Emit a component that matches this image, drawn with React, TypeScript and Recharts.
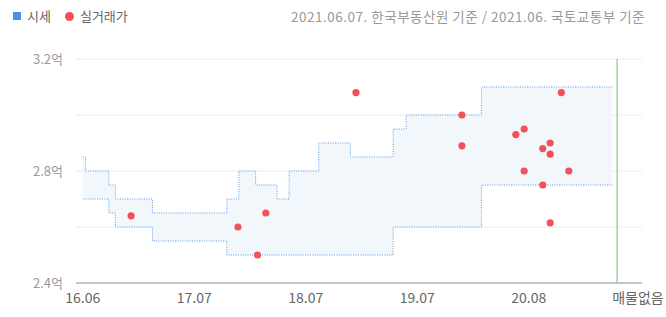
import {
  Area,
  CartesianGrid,
  ComposedChart,
  ReferenceLine,
  Scatter,
  XAxis,
  YAxis,
} from 'recharts'

// x is a position on the time axis: each labelled tick is 12 units apart
const tickPos = [0, 12, 24, 36, 48, 60]
const tickLabels = ['16.06', '17.07', '18.07', '19.07', '20.08', '매물없음']

// 시세 band (min / max), step changes
const bandX = [0, 0.3, 2.8, 3.5, 7.5, 15.5, 16.8, 18.6, 20.9, 22.2, 25.4, 28.8, 33.4, 34.8, 42.9, 57.0]
const bandLow = [2.7, 2.7, 2.65, 2.6, 2.55, 2.5, 2.5, 2.5, 2.5, 2.5, 2.5, 2.5, 2.6, 2.6, 2.75, 2.75]
const bandHigh = [2.85, 2.8, 2.75, 2.7, 2.65, 2.7, 2.8, 2.75, 2.7, 2.8, 2.9, 2.85, 2.95, 3.0, 3.1, 3.1]

// 실거래가
const dealX = [5.2, 16.7, 18.8, 19.7, 29.4, 40.8, 40.8, 46.6, 47.5, 47.5, 49.5, 49.5, 50.3, 50.3, 50.3, 51.5, 52.3]
const dealPrice = [2.64, 2.6, 2.5, 2.65, 3.08, 3.0, 2.89, 2.93, 2.95, 2.8, 2.88, 2.75, 2.9, 2.86, 2.615, 3.08, 2.8]

const yTicks = [2.4, 2.6, 2.8, 3.0, 3.2]
const yLabelled = ['2.4', '2.8', '3.2']
const nowX = 57.5

const bandData = bandX.map((x, i) => ({ x, range: [bandLow[i], bandHigh[i]] }))
const dealData = dealX.map((x, i) => ({ x, price: dealPrice[i] }))

const FONT = '"Noto Sans CJK KR", "Noto Sans", sans-serif'

function Dot(props: any) {
  const { cx, cy } = props
  return <circle cx={cx} cy={cy} r={3.6} fill="#f4505a" />
}

export default function App() {
  return (
    <div style={{ position: 'relative', width: 666, height: 317, fontFamily: FONT, background: '#fff' }}>
      <style>{'body{margin:0}'}</style>
      <div style={{ position: 'absolute', left: 13, top: 6, display: 'flex', alignItems: 'center', fontSize: 13, color: '#666', lineHeight: '20px' }}>
        <span style={{ width: 8, height: 8, background: '#4a90e2', display: 'inline-block', marginRight: 6 }} />
        <span>시세</span>
        <span style={{ width: 9, height: 9, borderRadius: '50%', background: '#f4505a', display: 'inline-block', marginLeft: 14, marginRight: 6 }} />
        <span>실거래가</span>
      </div>
      <div style={{ position: 'absolute', right: 21, top: 6, fontSize: 13.5, letterSpacing: 0.5, color: '#999', lineHeight: '20px', whiteSpace: 'nowrap' }}>
        2021.06.07. 한국부동산원 기준 / 2021.06. 국토교통부 기준
      </div>
      <ComposedChart width={666} height={317} margin={{ top: 59, right: 24, bottom: 4, left: 10 }}>
        <CartesianGrid vertical={false} stroke="#ececec" />
        <XAxis
          dataKey="x"
          type="number"
          domain={[-0.73, 60.18]}
          ticks={tickPos}
          tickFormatter={(v: number) => tickLabels[tickPos.indexOf(v)] ?? ''}
          allowDataOverflow
          height={30}
          axisLine={{ stroke: '#b5b5b5', strokeWidth: 1.5 }}
          tickLine={false}
          tickMargin={4}
          tick={{ fill: '#666', fontSize: 14 }}
        />
        <YAxis
          type="number"
          domain={[2.4, 3.2]}
          ticks={yTicks}
          width={66}
          axisLine={false}
          tickLine={false}
          tickMargin={7}
          tickFormatter={(v: number) => (yLabelled.includes(v.toFixed(1)) ? `${v.toFixed(1)}억` : '')}
          tick={{ fill: '#999', fontSize: 13 }}
        />
        <Area
          data={bandData}
          dataKey="range"
          type="stepAfter"
          fill="#f2f7fc"
          fillOpacity={1}
          stroke="#5a9be6"
          strokeWidth={1}
          strokeDasharray="1 1.4"
          dot={false}
          activeDot={false}
          isAnimationActive={false}
        />
        <ReferenceLine x={nowX} stroke="#6cbf6c" strokeWidth={1} />
        <Scatter data={dealData} dataKey="price" shape={Dot} isAnimationActive={false} />
      </ComposedChart>
    </div>
  )
}
